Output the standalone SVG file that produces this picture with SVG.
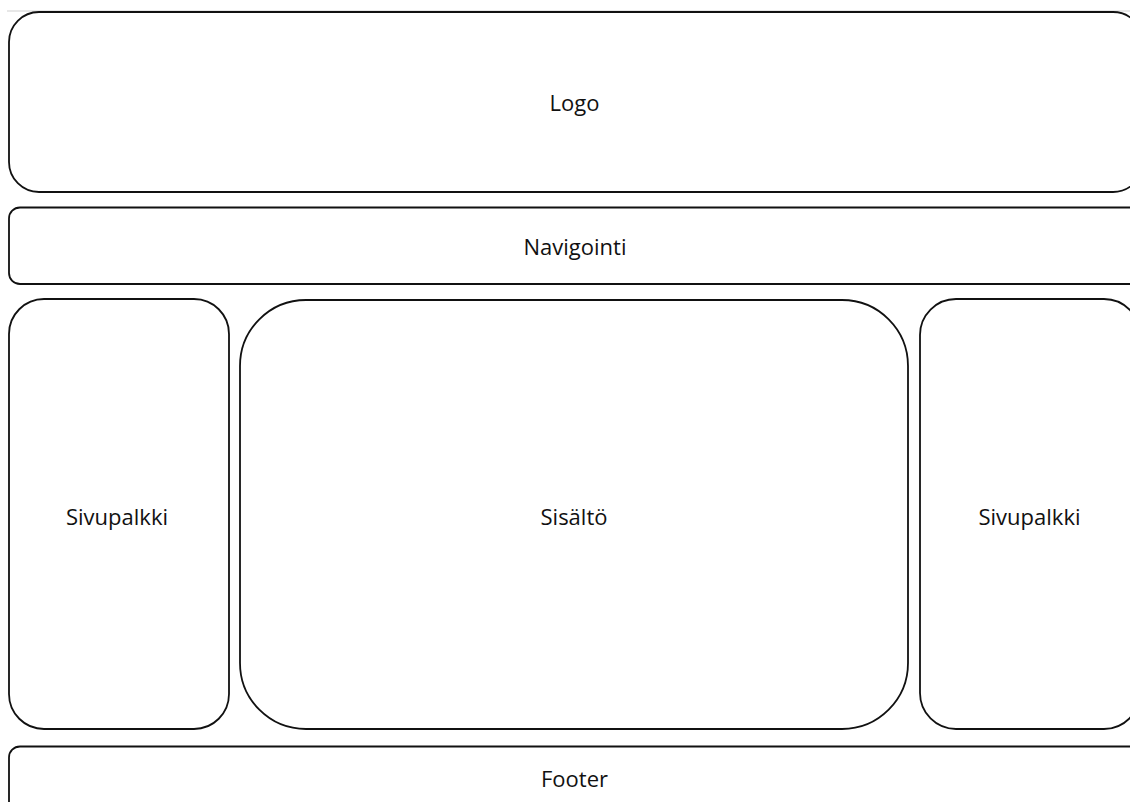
<svg xmlns="http://www.w3.org/2000/svg" width="1130" height="802" viewBox="0 0 1130 802">
<style>
.box{fill:#ffffff;stroke:#111111;stroke-width:1.8}
.lbl{font-family:"Open Sans","Noto Sans","Liberation Sans",sans-serif;font-size:22px;fill:#111111;text-anchor:middle}
</style>
<rect x="0" y="0" width="1130" height="802" fill="#ffffff"/>
<line x1="7" y1="11" x2="1130" y2="11" stroke="#cfcfcf" stroke-width="1"/>
<g id="logo">
<rect class="box" x="9" y="12" width="1134" height="180" rx="30" ry="30"/>
<text class="lbl" x="574.5" y="111">Logo</text>
</g>
<g id="navigointi">
<rect class="box" x="9" y="207.5" width="1140" height="76.5" rx="11" ry="11"/>
<text class="lbl" x="575" y="255">Navigointi</text>
</g>
<g id="sivupalkki-vasen">
<rect class="box" x="9" y="299" width="220" height="430" rx="35" ry="35"/>
<text class="lbl" x="117" y="525">Sivupalkki</text>
</g>
<g id="sisalto">
<rect class="box" x="240" y="300" width="668" height="429" rx="66" ry="66"/>
<text class="lbl" x="574" y="525">Sisältö</text>
</g>
<g id="sivupalkki-oikea">
<rect class="box" x="920" y="299" width="220" height="430" rx="36" ry="36"/>
<text class="lbl" x="1029.5" y="525">Sivupalkki</text>
</g>
<g id="footer">
<rect class="box" x="9" y="746.5" width="1140" height="80" rx="11" ry="11"/>
<text class="lbl" x="574.5" y="786.5">Footer</text>
</g>
<g id="connectors"/>
</svg>
